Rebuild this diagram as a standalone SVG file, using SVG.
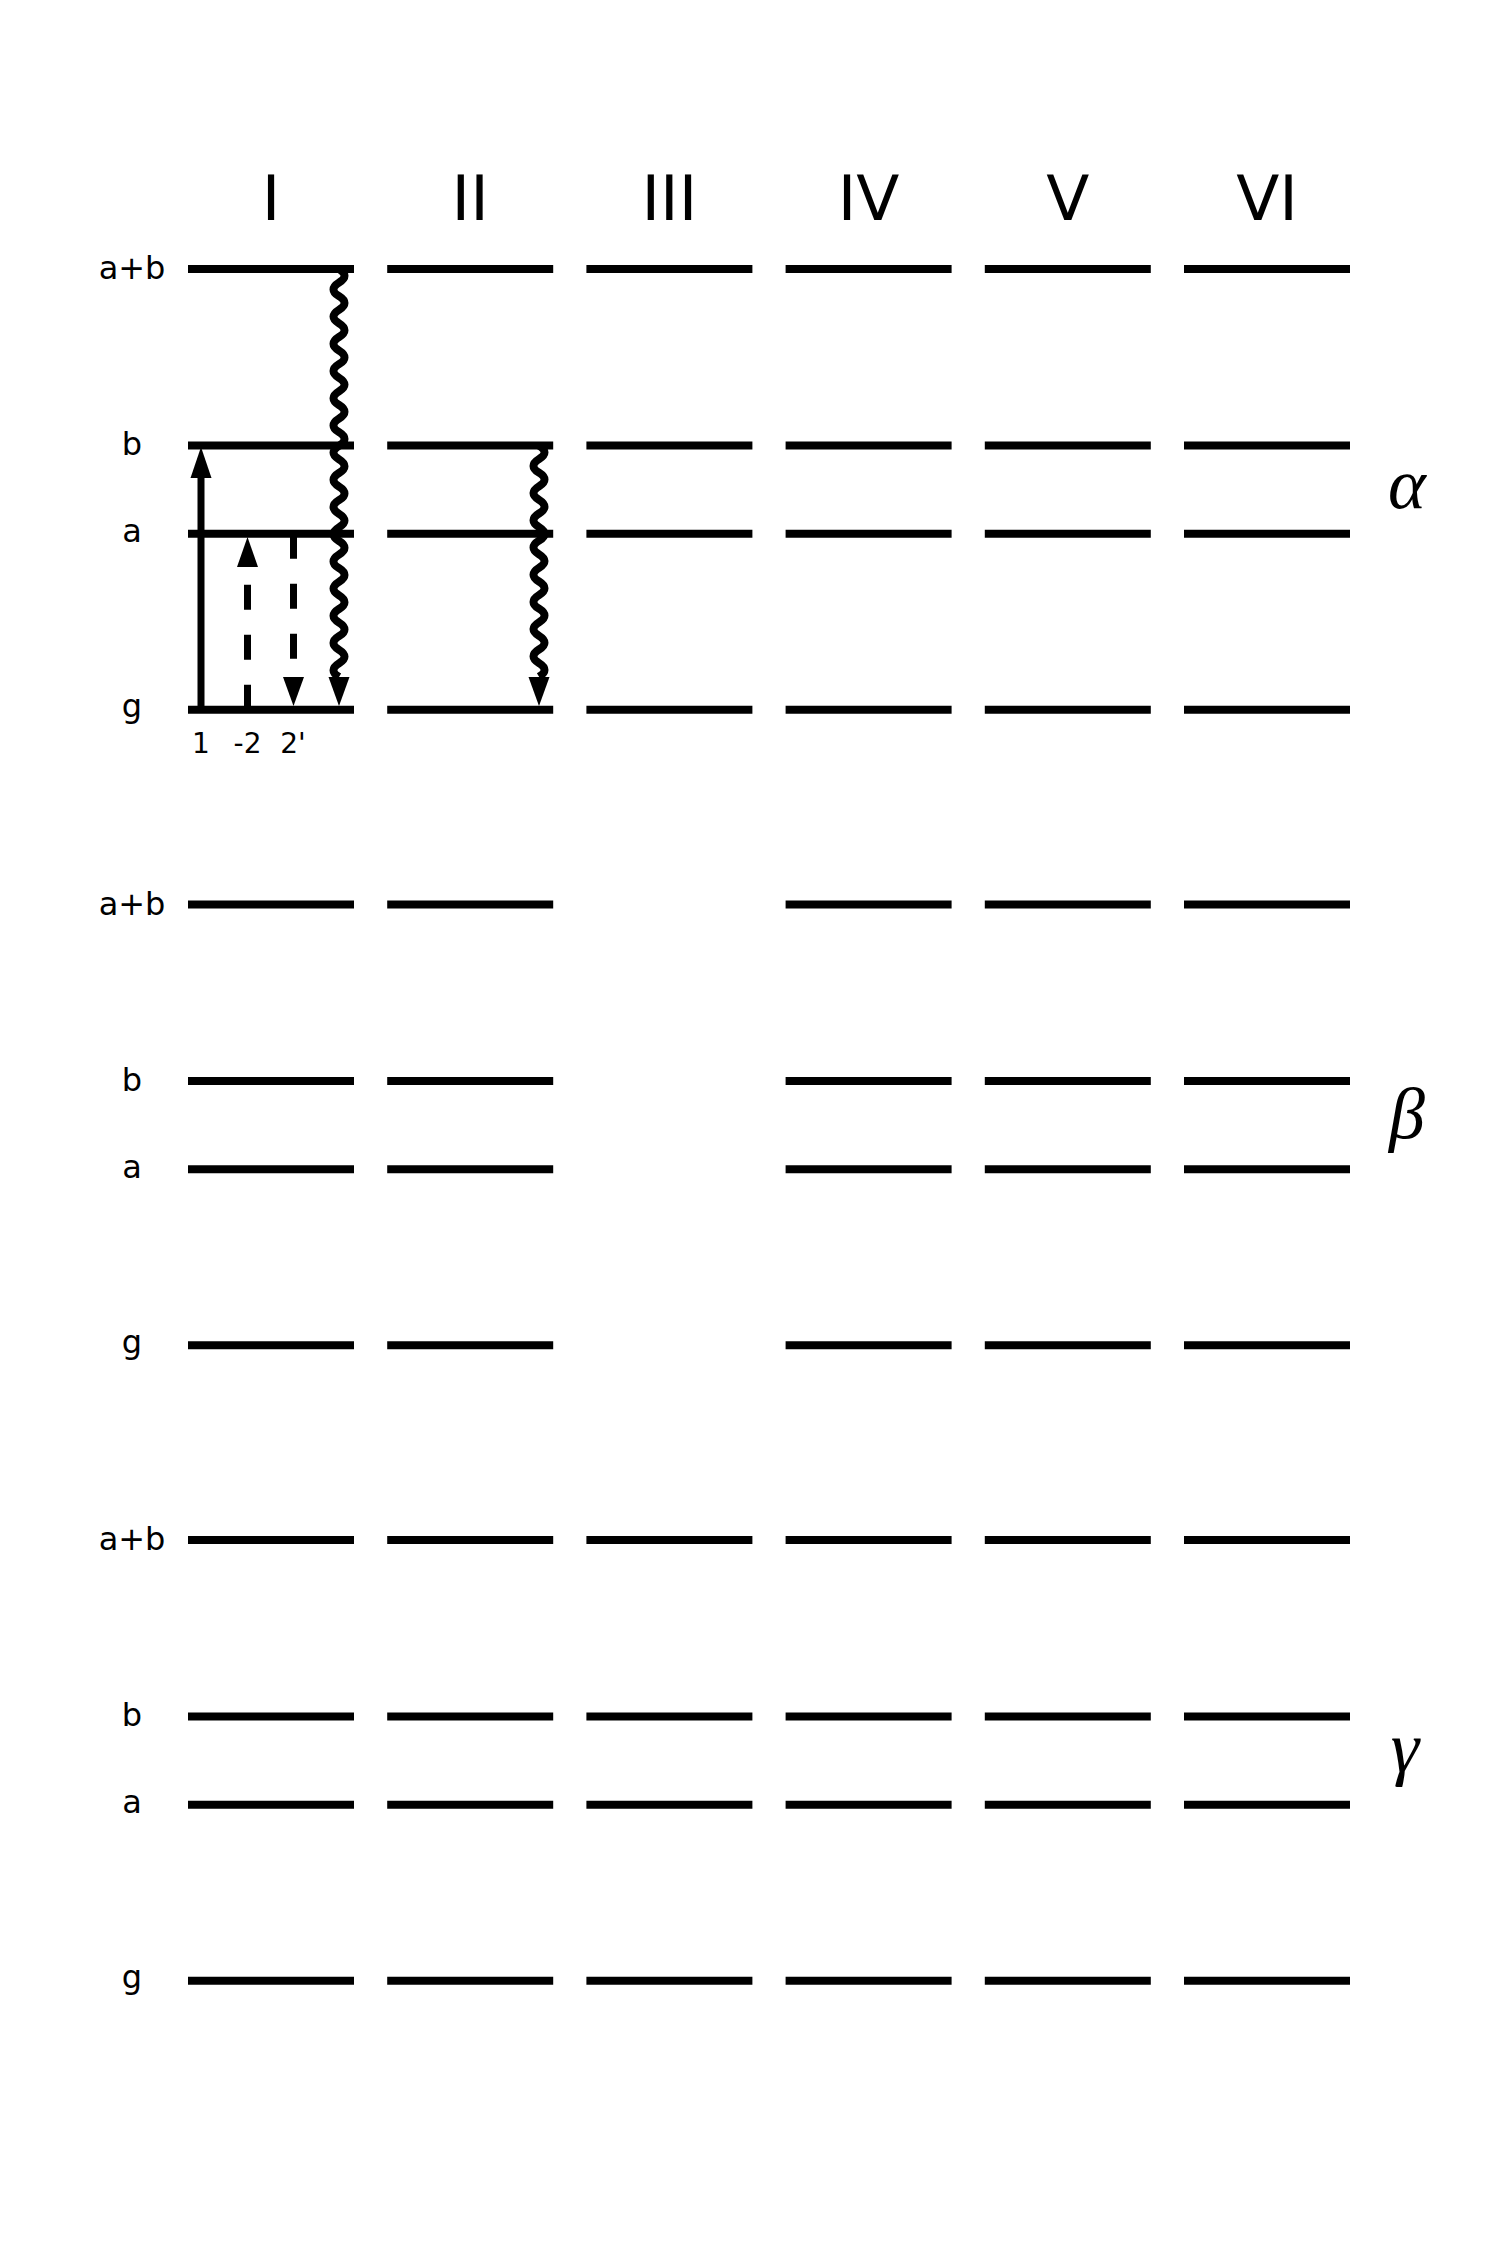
<svg xmlns="http://www.w3.org/2000/svg" width="1500" height="2250" viewBox="0 0 1500 2250">
<style>
.lv{stroke:#000;stroke-width:8;fill:none}
.ar{stroke:#000;stroke-width:7;fill:none}
.wv{stroke:#000;stroke-width:8;fill:none;stroke-linejoin:round}
.dash{stroke-dasharray:25 25}
.hd{fill:#000;stroke:none}
.col{font-family:"DejaVu Sans",sans-serif;font-size:63px;text-anchor:middle;fill:#000}
.lab{font-family:"DejaVu Sans",sans-serif;font-size:32px;text-anchor:middle;fill:#000}
.num{font-family:"DejaVu Sans",sans-serif;font-size:28px;text-anchor:middle;fill:#000}
.gr{font-family:"Liberation Serif",serif;font-style:italic;font-size:72px;text-anchor:middle;fill:#000}
</style>
<rect width="1500" height="2250" fill="#fff"/>
<defs>
<g id="lvI"><line class="lv" x1="0" y1="0" x2="166" y2="0"/></g>
</defs>
<g id="column-labels">
<text class="col" x="271" y="220">I</text>
<text class="col" x="470.2" y="220">II</text>
<text class="col" x="669.4" y="220">III</text>
<text class="col" x="868.6" y="220">IV</text>
<text class="col" x="1067.8" y="220">V</text>
<text class="col" x="1267" y="220">VI</text>
</g>
<g id="level-labels">
<text class="lab" x="132" y="279">a+b</text>
<text class="lab" x="132" y="455">b</text>
<text class="lab" x="132" y="542">a</text>
<text class="lab" x="132" y="717">g</text>
<text class="lab" x="132" y="914.5">a+b</text>
<text class="lab" x="132" y="1090.5">b</text>
<text class="lab" x="132" y="1177.5">a</text>
<text class="lab" x="132" y="1352.5">g</text>
<text class="lab" x="132" y="1550">a+b</text>
<text class="lab" x="132" y="1726">b</text>
<text class="lab" x="132" y="1813">a</text>
<text class="lab" x="132" y="1988">g</text>
</g>
<g id="group-labels">
<text class="gr" x="1407" y="508">α</text>
<text class="gr" x="1407" y="1138">β</text>
<text class="gr" x="1405" y="1772">γ</text>
</g>
<g id="alpha">
<g id="alpha-I"><use href="#lvI" x="188" y="269"/><use href="#lvI" x="188" y="445.5"/><use href="#lvI" x="188" y="533.8"/><use href="#lvI" x="188" y="709.7"/></g>
<g id="alpha-II"><use href="#lvI" x="387.2" y="269"/><use href="#lvI" x="387.2" y="445.5"/><use href="#lvI" x="387.2" y="533.8"/><use href="#lvI" x="387.2" y="709.7"/></g>
<g id="alpha-III"><use href="#lvI" x="586.4" y="269"/><use href="#lvI" x="586.4" y="445.5"/><use href="#lvI" x="586.4" y="533.8"/><use href="#lvI" x="586.4" y="709.7"/></g>
<g id="alpha-IV"><use href="#lvI" x="785.6" y="269"/><use href="#lvI" x="785.6" y="445.5"/><use href="#lvI" x="785.6" y="533.8"/><use href="#lvI" x="785.6" y="709.7"/></g>
<g id="alpha-V"><use href="#lvI" x="984.8" y="269"/><use href="#lvI" x="984.8" y="445.5"/><use href="#lvI" x="984.8" y="533.8"/><use href="#lvI" x="984.8" y="709.7"/></g>
<g id="alpha-VI"><use href="#lvI" x="1184" y="269"/><use href="#lvI" x="1184" y="445.5"/><use href="#lvI" x="1184" y="533.8"/><use href="#lvI" x="1184" y="709.7"/></g>
</g>
<g id="beta">
<g id="beta-I"><use href="#lvI" x="188" y="904.5"/><use href="#lvI" x="188" y="1081"/><use href="#lvI" x="188" y="1169.3"/><use href="#lvI" x="188" y="1345.2"/></g>
<g id="beta-II"><use href="#lvI" x="387.2" y="904.5"/><use href="#lvI" x="387.2" y="1081"/><use href="#lvI" x="387.2" y="1169.3"/><use href="#lvI" x="387.2" y="1345.2"/></g>
<g id="beta-IV"><use href="#lvI" x="785.6" y="904.5"/><use href="#lvI" x="785.6" y="1081"/><use href="#lvI" x="785.6" y="1169.3"/><use href="#lvI" x="785.6" y="1345.2"/></g>
<g id="beta-V"><use href="#lvI" x="984.8" y="904.5"/><use href="#lvI" x="984.8" y="1081"/><use href="#lvI" x="984.8" y="1169.3"/><use href="#lvI" x="984.8" y="1345.2"/></g>
<g id="beta-VI"><use href="#lvI" x="1184" y="904.5"/><use href="#lvI" x="1184" y="1081"/><use href="#lvI" x="1184" y="1169.3"/><use href="#lvI" x="1184" y="1345.2"/></g>
</g>
<g id="gamma">
<g id="gamma-I"><use href="#lvI" x="188" y="1540"/><use href="#lvI" x="188" y="1716.5"/><use href="#lvI" x="188" y="1804.8"/><use href="#lvI" x="188" y="1980.7"/></g>
<g id="gamma-II"><use href="#lvI" x="387.2" y="1540"/><use href="#lvI" x="387.2" y="1716.5"/><use href="#lvI" x="387.2" y="1804.8"/><use href="#lvI" x="387.2" y="1980.7"/></g>
<g id="gamma-III"><use href="#lvI" x="586.4" y="1540"/><use href="#lvI" x="586.4" y="1716.5"/><use href="#lvI" x="586.4" y="1804.8"/><use href="#lvI" x="586.4" y="1980.7"/></g>
<g id="gamma-IV"><use href="#lvI" x="785.6" y="1540"/><use href="#lvI" x="785.6" y="1716.5"/><use href="#lvI" x="785.6" y="1804.8"/><use href="#lvI" x="785.6" y="1980.7"/></g>
<g id="gamma-V"><use href="#lvI" x="984.8" y="1540"/><use href="#lvI" x="984.8" y="1716.5"/><use href="#lvI" x="984.8" y="1804.8"/><use href="#lvI" x="984.8" y="1980.7"/></g>
<g id="gamma-VI"><use href="#lvI" x="1184" y="1540"/><use href="#lvI" x="1184" y="1716.5"/><use href="#lvI" x="1184" y="1804.8"/><use href="#lvI" x="1184" y="1980.7"/></g>
</g>
<g id="connectors">
<line class="ar" x1="201" y1="712" x2="201" y2="476"/>
<polygon class="hd" points="201,447 190.5,478 211.5,478"/>
<line class="ar dash" x1="247.5" y1="709.7" x2="247.5" y2="567"/>
<polygon class="hd" points="247.5,537 237,567 258,567"/>
<line class="ar dash" x1="293.5" y1="533.8" x2="293.5" y2="677"/>
<polygon class="hd" points="293.5,706 283,677 304,677"/>
<path class="wv" d="M339 269 q11 6.8 0 13.6 t0 13.6 t0 13.6 t0 13.6 t0 13.6 t0 13.6 t0 13.6 t0 13.6 t0 13.6 t0 13.6 t0 13.6 t0 13.6 t0 13.6 t0 13.6 t0 13.6 t0 13.6 t0 13.6 t0 13.6 t0 13.6 t0 13.6 t0 13.6 t0 13.6 t0 13.6 t0 13.6 t0 13.6 t0 13.6 t0 13.6 t0 13.6 t0 13.6 t0 13.6"/>
<polygon class="hd" points="339,706 328.5,677 349.5,677"/>
<path class="wv" d="M539 445.5 q11 6.8 0 13.6 t0 13.6 t0 13.6 t0 13.6 t0 13.6 t0 13.6 t0 13.6 t0 13.6 t0 13.6 t0 13.6 t0 13.6 t0 13.6 t0 13.6 t0 13.6 t0 13.6 t0 13.6 t0 13.6"/>
<polygon class="hd" points="539,706 528.5,677 549.5,677"/>
</g>
<g id="arrow-labels">
<text class="num" x="201" y="753">1</text>
<text class="num" x="247.5" y="753">-2</text>
<text class="num" x="293" y="753">2'</text>
</g>
</svg>
